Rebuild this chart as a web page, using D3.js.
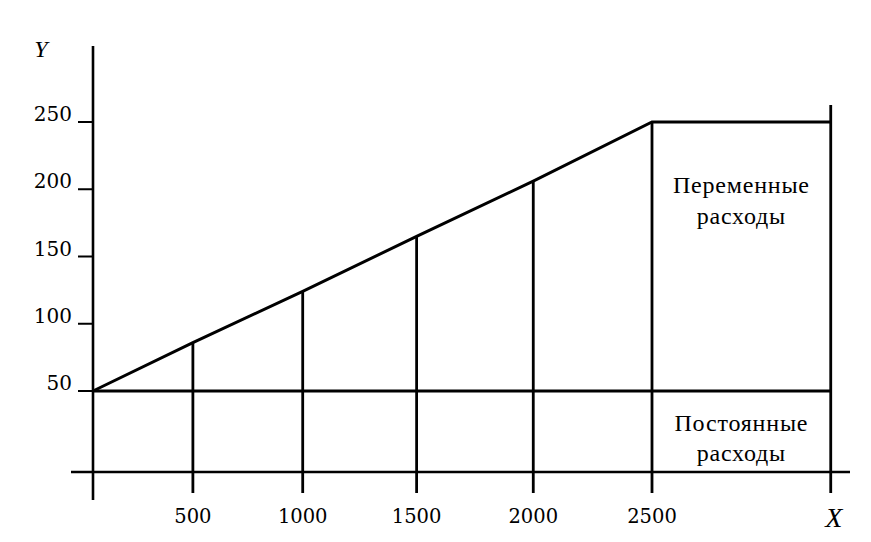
<!DOCTYPE html>
<html>
<head>
<meta charset="utf-8">
<script src="https://cdn.jsdelivr.net/npm/d3@7"></script>
<style>
  html, body { margin: 0; padding: 0; background: #fff; }
  svg text { fill: #000; }
  .num { font-family: "DejaVu Serif", serif; }
  .word { font-family: "Liberation Serif", "Times New Roman", serif; }
</style>
</head>
<body>
<svg id="chart" width="871" height="542"></svg>
<script>
// ---- data ----
const xTicks = [500, 1000, 1500, 2000, 2500];
const yTicks = [50, 100, 150, 200, 250];
const outputs = [0, 500, 1000, 1500, 2000, 2500, 3240];
const totalCosts = [50, 86, 124, 165, 206, 250, 250];
const fixedCost = 50;
const xMax = 3240;
const variableLabel = ["Переменные", "расходы"];
const fixedLabel = ["Постоянные", "расходы"];
const xAxisTitle = "X";
const yAxisTitle = "Y";

// ---- layout ----
const svg = d3.select("#chart");
const x = d3.scalePow().exponent(1.07).domain([0, 2500]).range([93, 652]);
const y = d3.scaleLinear().domain([50, 250]).range([391, 122]);
const baseY = 472;      // horizontal axis position
const tickBottom = 493; // lower end of tick marks
const stroke = "#000";

// Y axis
svg.append("line")
  .attr("x1", x(0)).attr("x2", x(0))
  .attr("y1", 46).attr("y2", 500)
  .attr("stroke", stroke).attr("stroke-width", 2.6);

// X axis
svg.append("line")
  .attr("x1", 71).attr("x2", 850)
  .attr("y1", baseY).attr("y2", baseY)
  .attr("stroke", stroke).attr("stroke-width", 2.4);

// Y ticks + labels
svg.selectAll(".ytick").data(yTicks).join("line")
  .attr("x1", x(0) - 15).attr("x2", x(0))
  .attr("y1", d => y(d)).attr("y2", d => y(d))
  .attr("stroke", stroke).attr("stroke-width", 2);
svg.selectAll(".ylab").data(yTicks).join("text")
  .attr("class", "num")
  .attr("x", 72).attr("y", d => y(d) - 1)
  .attr("text-anchor", "end")
  .attr("font-size", 20)
  .text(d => d);

// X ticks (below axis) + labels
svg.selectAll(".xtick").data(xTicks.concat([xMax])).join("line")
  .attr("x1", d => x(d)).attr("x2", d => x(d))
  .attr("y1", baseY).attr("y2", tickBottom)
  .attr("stroke", stroke).attr("stroke-width", 2.8);
svg.selectAll(".xlab").data(xTicks).join("text")
  .attr("class", "num")
  .attr("x", d => x(d)).attr("y", 523)
  .attr("text-anchor", "middle")
  .attr("font-size", 19.5)
  .text(d => d);

// Axis titles
svg.append("text").attr("class", "word").attr("x", 41).attr("y", 57)
  .attr("text-anchor", "middle").attr("font-size", 24).attr("font-style", "italic")
  .text(yAxisTitle);
svg.append("text").attr("class", "word").attr("x", x(xMax) + 3).attr("y", 527)
  .attr("text-anchor", "middle").attr("font-size", 28).attr("font-style", "italic")
  .text(xAxisTitle);

// Fixed cost line
svg.append("line")
  .attr("x1", x(0)).attr("x2", x(xMax))
  .attr("y1", y(fixedCost)).attr("y2", y(fixedCost))
  .attr("stroke", stroke).attr("stroke-width", 2.8);

// Total cost line
const line = d3.line().x((d, i) => x(outputs[i])).y(d => y(d));
svg.append("path")
  .datum(totalCosts)
  .attr("d", line)
  .attr("fill", "none")
  .attr("stroke", stroke).attr("stroke-width", 3)
  .attr("stroke-linejoin", "miter");

// Vertical lines from axis to total cost
svg.selectAll(".vline").data(outputs.slice(1)).join("line")
  .attr("x1", d => x(d)).attr("x2", d => x(d))
  .attr("y1", baseY)
  .attr("y2", (d, i) => d === xMax ? y(totalCosts[i + 1]) - 17 : y(totalCosts[i + 1]))
  .attr("stroke", stroke).attr("stroke-width", 2.8);

// Region labels
const cx = (x(2500) + x(xMax)) / 2;
function label(lines, baselines) {
  svg.selectAll(null).data(lines).join("text")
    .attr("class", "word")
    .attr("x", cx).attr("y", (d, i) => baselines[i])
    .attr("text-anchor", "middle")
    .attr("font-size", 24)
    .attr("letter-spacing", 0.8)
    .text(d => d);
}
label(variableLabel, [193, 224]);
label(fixedLabel, [431, 461]);
</script>
</body>
</html>
